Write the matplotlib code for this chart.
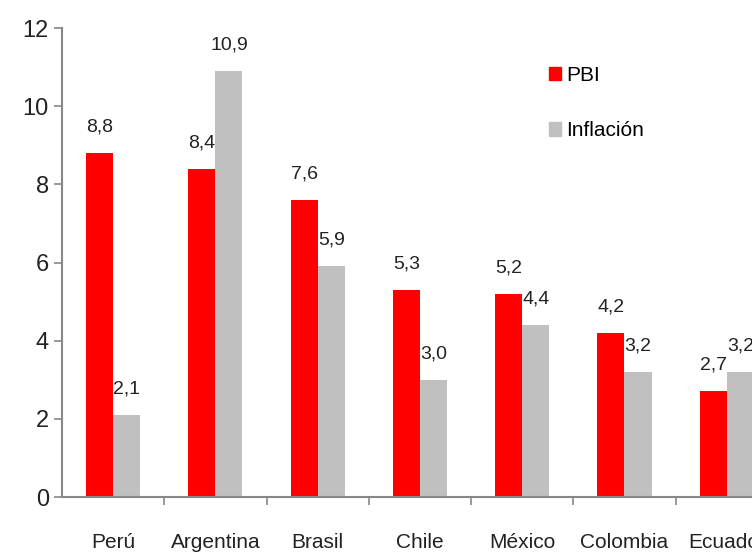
import numpy as np
import matplotlib.pyplot as plt
from matplotlib.patches import Patch

# data
paises = ['Perú', 'Argentina', 'Brasil', 'Chile', 'México', 'Colombia', 'Ecuador']
pbi = [8.8, 8.4, 7.6, 5.3, 5.2, 4.2, 2.7]
inflacion = [2.1, 10.9, 5.9, 3.0, 4.4, 3.2, 3.2]

plt.rcParams['font.family'] = ['Liberation Sans Narrow', 'Liberation Sans', 'DejaVu Sans']

fig = plt.figure(figsize=(7.52, 5.55), dpi=100)
# axes run past the right edge, like the cropped original
ax = fig.add_axes([0.0824, 0.1045, 0.952, 0.845])

x = np.arange(len(paises))
w = 0.265
rojo = '#ff0000'
gris = '#c0c0c0'
ax.bar(x - w / 2, pbi, w, color=rojo)
ax.bar(x + w / 2, inflacion, w, color=gris)

def etiqueta(v):
    return f'{v:.1f}'.replace('.', ',')

for xi, v in zip(x - w / 2, pbi):
    ax.text(xi, v + 0.45, etiqueta(v), ha='center', va='bottom', fontsize=14, color='#222222')
for xi, v in zip(x + w / 2, inflacion):
    ax.text(xi, v + 0.45, etiqueta(v), ha='center', va='bottom', fontsize=14, color='#222222')

ax.set_xlim(-0.5, len(paises) - 0.5)
ax.set_ylim(0, 12)
ax.set_yticks(range(0, 13, 2))
ax.set_xticks(x)
ax.set_xticklabels(paises, fontsize=15, color='#222222')
ax.set_xticks(np.arange(0.5, len(paises) - 0.5, 1), minor=True)
ax.tick_params(axis='x', which='major', length=0, pad=26)
ax.tick_params(axis='x', which='minor', length=6, color='#888888', width=1.2)
ax.tick_params(axis='y', labelsize=17, length=6, color='#888888', width=1.2, labelcolor='#222222')

for s in ['top', 'right']:
    ax.spines[s].set_visible(False)
for s in ['left', 'bottom']:
    ax.spines[s].set_color('#888888')
    ax.spines[s].set_linewidth(1.5)

handles = [Patch(color=rojo, label='PBI'), Patch(color=gris, label='Inflación')]
fig.legend(handles=handles, loc='upper left', bbox_to_anchor=(0.705, 0.915),
           frameon=False, fontsize=15, handlelength=0.6, handleheight=0.6,
           handletextpad=0.25, labelspacing=1.75)

plt.savefig('out.png', dpi=100)
